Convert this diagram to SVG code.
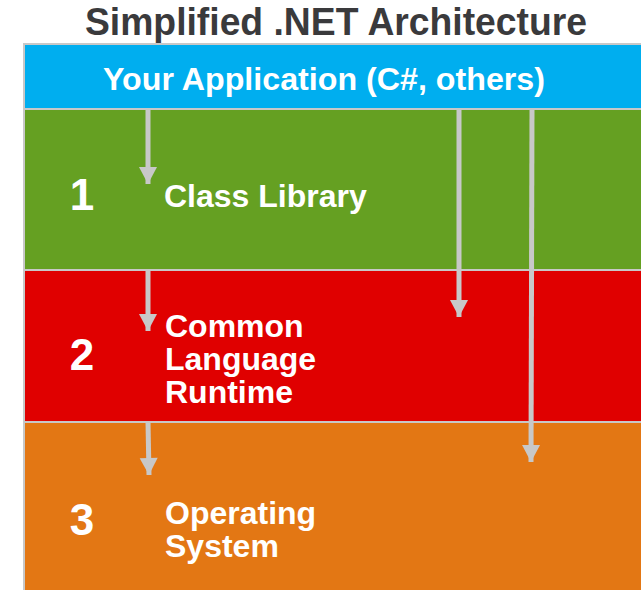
<svg xmlns="http://www.w3.org/2000/svg" width="641" height="590" viewBox="0 0 641 590">
<defs>
<style>
.t{font-family:"Liberation Sans",Arial,sans-serif;font-weight:bold;fill:#fff}
.n{font-size:44px}
.l{font-size:32px}
.c{stroke:#c8c8c8;stroke-width:5;fill:none}
</style>
<marker id="ah" markerUnits="userSpaceOnUse" markerWidth="20" markerHeight="20" viewBox="0 0 20 20" refX="17" refY="10" orient="auto" overflow="visible">
<path d="M0,1 L17,10 L0,19 Z" fill="#c8c8c8"/>
</marker>
</defs>
<rect width="641" height="590" fill="#fff"/>
<text x="336" y="35" text-anchor="middle" font-family="'Liberation Sans',Arial,sans-serif" font-weight="bold" font-size="38" fill="#3a3a3c" textLength="502" lengthAdjust="spacingAndGlyphs">Simplified .NET Architecture</text>
<rect x="23" y="43" width="620" height="550" fill="#c8c8c8"/>
<g id="app">
<rect x="25" y="45" width="616" height="63" fill="#00aeef"/>
<text class="t" x="324" y="90" text-anchor="middle" font-size="31" textLength="442" lengthAdjust="spacingAndGlyphs">Your Application (C#, others)</text>
</g>
<g id="classlib">
<rect x="25" y="110" width="616" height="159" fill="#65a022"/>
<text class="t n" x="82" y="210" text-anchor="middle">1</text>
<text class="t l" x="164" y="207">Class Library</text>
</g>
<g id="clr">
<rect x="25" y="271" width="616" height="150" fill="#e00000"/>
<text class="t n" x="82" y="370" text-anchor="middle">2</text>
<text class="t l" x="165" y="337">Common</text>
<text class="t l" x="165" y="370">Language</text>
<text class="t l" x="165" y="403">Runtime</text>
</g>
<g id="os">
<rect x="25" y="423" width="616" height="167" fill="#e37714"/>
<text class="t n" x="82" y="535" text-anchor="middle">3</text>
<text class="t l" x="165" y="524">Operating</text>
<text class="t l" x="165" y="557">System</text>
</g>
<g id="connectors">
<line class="c" x1="148" y1="109" x2="148" y2="184" marker-end="url(#ah)"/>
<line class="c" x1="148" y1="270" x2="148" y2="331" marker-end="url(#ah)"/>
<line class="c" x1="148" y1="422" x2="149" y2="475" marker-end="url(#ah)"/>
<line class="c" x1="459" y1="109" x2="459" y2="317" marker-end="url(#ah)"/>
<line class="c" x1="532" y1="109" x2="531" y2="462" marker-end="url(#ah)"/>
</g>
</svg>
